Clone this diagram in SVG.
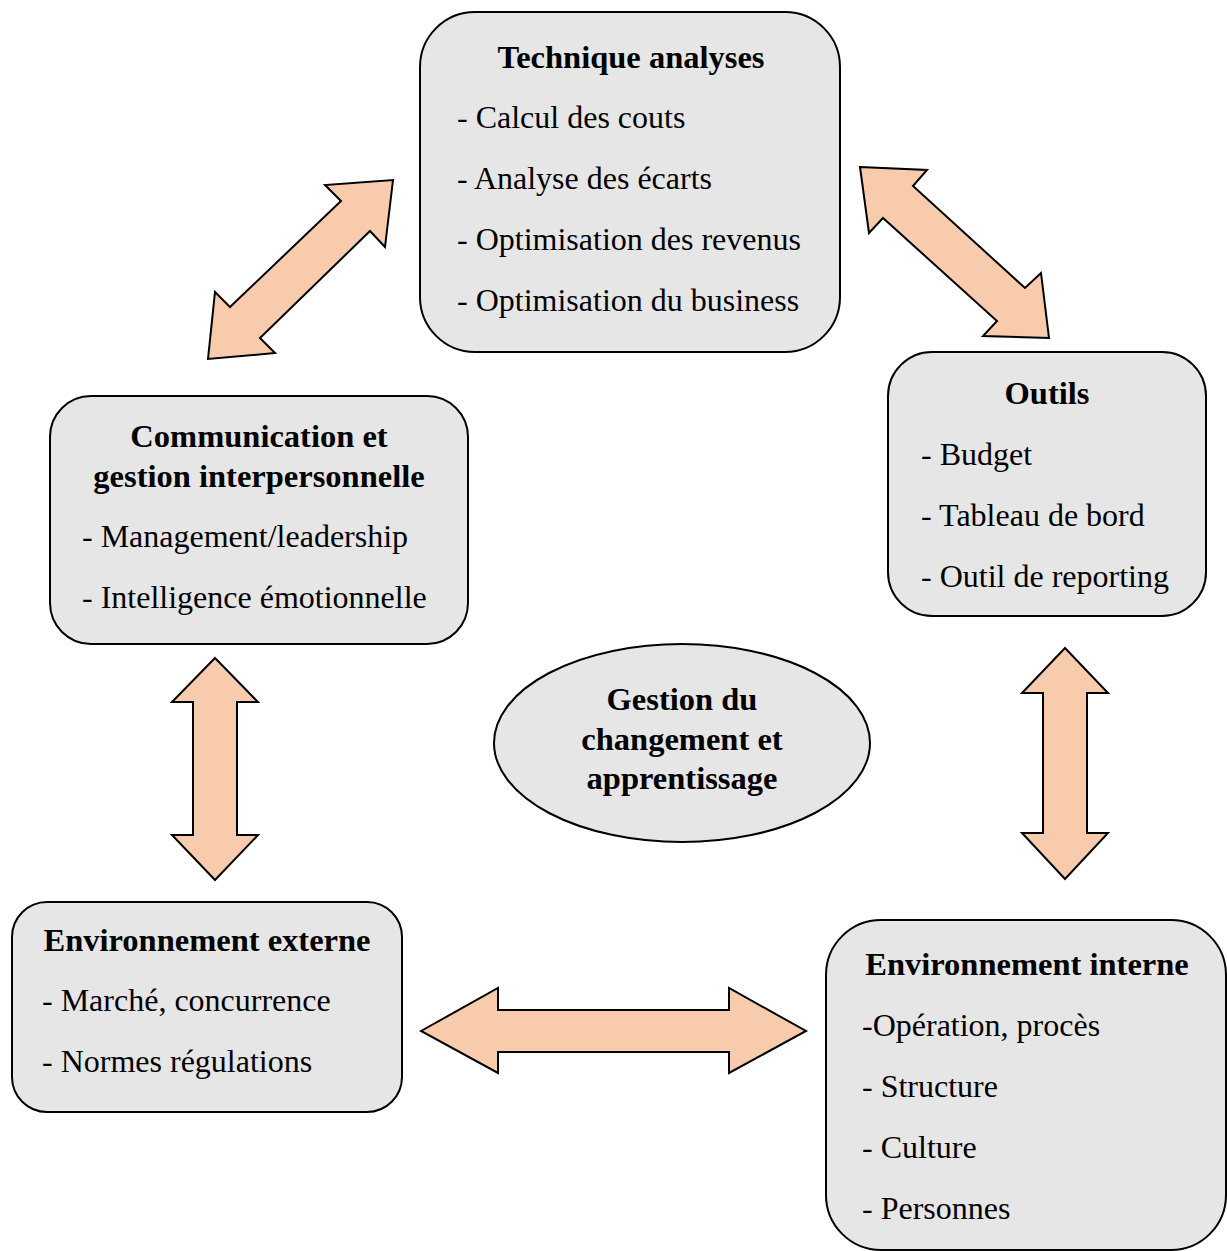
<svg xmlns="http://www.w3.org/2000/svg" width="1227" height="1251" viewBox="0 0 1227 1251">
  <style>
    .box { fill: #E7E6E6; stroke: #000; stroke-width: 2; }
    .arrow { fill: #F8CBAD; stroke: #000; stroke-width: 2; stroke-linejoin: miter; }
    text { font-family: "Liberation Serif", "Times New Roman", serif; font-size: 32px; fill: #000; }
    .title { font-weight: bold; font-size: 32.5px; text-anchor: middle; }
  </style>
  <rect width="1227" height="1251" fill="#fff"/>

  <!-- double-headed block arrows -->
  <g id="connectors">
    <polygon class="arrow" points="393,180 385,247 370,231 260,338 275,353 208,359 215,292 230,307 341,201 325,185"/>
    <polygon class="arrow" points="860,167 927,170 913,186 1025,288 1041,273 1049,338 983,336 997,321 883,218 869,233"/>
    <polygon class="arrow" points="215,658 258,702 237,702 237,835 258,835 215,880 172,835 193,835 193,702 172,702"/>
    <polygon class="arrow" points="1065,648 1108,693 1087,693 1087,833 1108,833 1065,879 1022,833 1043,833 1043,693 1022,693"/>
    <polygon class="arrow" points="421,1031 498,988 498,1010 729,1010 729,988 806,1031 729,1073 729,1052 498,1052 498,1073"/>
  </g>

  <g id="technique">
    <rect class="box" x="420" y="12" width="420" height="340" rx="55" ry="55"/>
    <text class="title" x="631" y="68">Technique analyses</text>
    <text x="457" y="128">- Calcul des couts</text>
    <text x="457" y="189">- Analyse des écarts</text>
    <text x="457" y="250">- Optimisation des revenus</text>
    <text x="457" y="311">- Optimisation du business</text>
  </g>

  <g id="outils">
    <rect class="box" x="888" y="352" width="318" height="264" rx="44" ry="44"/>
    <text class="title" x="1047" y="404">Outils</text>
    <text x="921" y="465">- Budget</text>
    <text x="921" y="526">- Tableau de bord</text>
    <text x="921" y="587">- Outil de reporting</text>
  </g>

  <g id="communication">
    <rect class="box" x="50" y="396" width="418" height="248" rx="41" ry="41"/>
    <text class="title" x="259" y="447">Communication et</text>
    <text class="title" x="259" y="487">gestion interpersonnelle</text>
    <text x="82" y="547">- Management/leadership</text>
    <text x="82" y="608">- Intelligence émotionnelle</text>
  </g>

  <g id="changement">
    <ellipse class="box" cx="682" cy="743" rx="188" ry="99"/>
    <text class="title" x="682" y="710">Gestion du</text>
    <text class="title" x="682" y="750">changement et</text>
    <text class="title" x="682" y="789">apprentissage</text>
  </g>

  <g id="env-externe">
    <rect class="box" x="12" y="902" width="390" height="210" rx="35" ry="35"/>
    <text class="title" x="207" y="951">Environnement externe</text>
    <text x="42" y="1011">- Marché, concurrence</text>
    <text x="42" y="1072">- Normes régulations</text>
  </g>

  <g id="env-interne">
    <rect class="box" x="826" y="920" width="400" height="330" rx="55" ry="55"/>
    <text class="title" x="1027" y="975">Environnement interne</text>
    <text x="862" y="1036">-Opération, procès</text>
    <text x="862" y="1097">- Structure</text>
    <text x="862" y="1158">- Culture</text>
    <text x="862" y="1219">- Personnes</text>
  </g>
</svg>
